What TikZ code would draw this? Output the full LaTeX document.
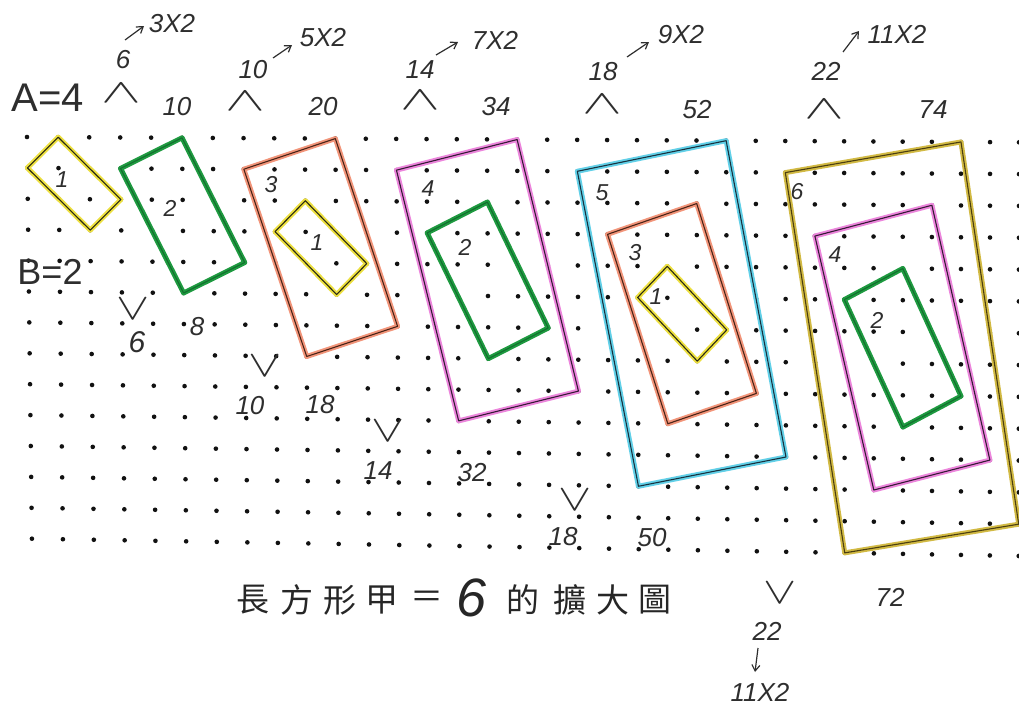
\documentclass[tikz,border=0pt]{standalone}
\usepackage{fontspec}
\usepackage{graphicx}
\setmainfont{Liberation Sans}
\newfontfamily\cjk{Noto Sans CJK TC}
\usetikzlibrary{arrows.meta}
\definecolor{ink}{HTML}{2E2E2E}
\definecolor{dotc}{HTML}{111111}
\definecolor{yelH}{HTML}{EDE040}
\definecolor{yelI}{HTML}{2A2A12}
\definecolor{grnH}{HTML}{1E9A40}
\definecolor{grnI}{HTML}{13702E}
\definecolor{orgH}{HTML}{F2957A}
\definecolor{orgI}{HTML}{4A2418}
\definecolor{magH}{HTML}{EC86DC}
\definecolor{magI}{HTML}{361A36}
\definecolor{cyaH}{HTML}{62D0E8}
\definecolor{cyaI}{HTML}{18323E}
\definecolor{olvH}{HTML}{D2BA44}
\definecolor{olvI}{HTML}{4A3E10}
\newcommand\quadrect[6]{%
  \draw[hl=#1] (#3)--(#4)--(#5)--(#6)--cycle;
  \draw[inkline=#2] (#3)--(#4)--(#5)--(#6)--cycle;}
\newcommand\upmark{\scalebox{2.4}[1.35]{$\wedge$}}
\newcommand\downmark{\scalebox{2.0}[1.5]{$\vee$}}
\begin{document}
\begin{tikzpicture}[x=1pt,y=-1pt,
  hl/.style={draw=#1, line width=5pt, line join=round, line cap=round},
  inkline/.style={draw=#1, line width=1.1pt, line join=round},
  hw/.style={font=\fontsize{26}{26}\selectfont\itshape, text=ink, inner sep=0pt},
  hwbig/.style={font=\fontsize{40}{40}\selectfont, text=ink, inner sep=0pt},
  lab/.style={font=\fontsize{23}{23}\selectfont\itshape, text=ink, inner sep=0pt},
  caret/.style={font=\fontsize{30}{30}\selectfont, text=ink, inner sep=0pt},
  captxt/.style={font=\cjk\fontsize{33}{33}\selectfont, text=black!85, inner sep=0pt},
  arr/.style={-{Straight Barb[length=6pt,width=8pt,line width=1.2pt]}, line width=1.2pt, draw=ink}]
\fill[white] (0,0) rectangle (1019,707);
\useasboundingbox (0,0) rectangle (1019,707);
% dot grid
\foreach \i in {0,...,33}{
  \foreach \j in {0,...,13}{
    \pgfmathsetmacro\xx{27+31.17*\i-0.0336*\i*\i+0.38*\j-0.0123*\i*\j}
    \pgfmathsetmacro\yy{137+0.16*\i+30.9*\j+0.028*\i*\j}
    \coordinate (p-\i-\j) at (\xx,\yy);
    \fill[dotc] (p-\i-\j) circle[radius=2.3pt];
  }}
% rectangles
\quadrect{yelH}{yelI}{p-1-0}{p-3-2}{p-2-3}{p-0-1}
\quadrect{grnH}{grnI}{p-3-1}{p-5-0}{p-7-4}{p-5-5}
\quadrect{orgH}{orgI}{p-7-1}{p-10-0}{p-12-6}{p-9-7}
\quadrect{yelH}{yelI}{p-9-2}{p-11-4}{p-10-5}{p-8-3}
\quadrect{magH}{magI}{p-12-1}{p-16-0}{p-18-8}{p-14-9}
\quadrect{grnH}{grnI}{p-13-3}{p-15-2}{p-17-6}{p-15-7}
\quadrect{cyaH}{cyaI}{p-18-1}{p-23-0}{p-25-10}{p-20-11}
\quadrect{orgH}{orgI}{p-19-3}{p-22-2}{p-24-8}{p-21-9}
\quadrect{yelH}{yelI}{p-21-4}{p-23-6}{p-22-7}{p-20-5}
\quadrect{olvH}{olvI}{p-25-1}{p-31-0}{p-33-12}{p-27-13}
\quadrect{magH}{magI}{p-26-3}{p-30-2}{p-32-10}{p-28-11}
\quadrect{grnH}{grnI}{p-27-5}{p-29-4}{p-31-8}{p-29-9}
% rectangle labels
\node[lab] (r1) at (62,180) {1};
\node[lab] (r2) at (170,208) {2};
\node[lab] (r3) at (271,185) {3};
\node[lab] (r3a) at (317,243) {1};
\node[lab] (r4) at (428,189) {4};
\node[lab] (r4a) at (465,247) {2};
\node[lab] (r5) at (602,193) {5};
\node[lab] (r5a) at (635,253) {3};
\node[lab] (r5b) at (656,297) {1};
\node[lab] (r6) at (797,192) {6};
\node[lab] (r6a) at (835,255) {4};
\node[lab] (r6b) at (877,320) {2};
% left labels
\node[hwbig] (A) at (48,98) {A=4};
\node[hwbig, font=\fontsize{36}{36}\selectfont] (B) at (50,272) {B=2};
% top labels
\node[caret] (c1) at (121,93) {\upmark};
\node[caret] (c2) at (245,101) {\upmark};
\node[caret] (c3) at (420,100) {\upmark};
\node[caret] (c4) at (602,104) {\upmark};
\node[caret] (c5) at (824,109) {\upmark};
\node[hw] (u1) at (123,60) {6};
\node[hw] (u2) at (253,70) {10};
\node[hw] (u3) at (420,70) {14};
\node[hw] (u4) at (603,72) {18};
\node[hw] (u5) at (826,71) {22};
\node[hw] (m1) at (172,24) {3X2};
\node[hw] (m2) at (323,38) {5X2};
\node[hw] (m3) at (495,40) {7X2};
\node[hw] (m4) at (681,35) {9X2};
\node[hw] (m5) at (897,34) {11X2};
\coordinate (a1s) at (125,40); \coordinate (a1e) at (144,26);
\coordinate (a2s) at (273,58); \coordinate (a2e) at (292,45);
\coordinate (a3s) at (436,55); \coordinate (a3e) at (458,42);
\coordinate (a4s) at (627,57); \coordinate (a4e) at (649,42);
\coordinate (a5s) at (843,52); \coordinate (a5e) at (859,31);
\draw[arr] (a1s) -- (a1e);
\draw[arr] (a2s) -- (a2e);
\draw[arr] (a3s) -- (a3e);
\draw[arr] (a4s) -- (a4e);
\draw[arr] (a5s) -- (a5e);
\node[hw] (t1) at (177,107) {10};
\node[hw] (t2) at (323,107) {20};
\node[hw] (t3) at (496,107) {34};
\node[hw] (t4) at (697,110) {52};
\node[hw] (t5) at (933,110) {74};
% bottom labels
\node[caret] (v1) at (133,309) {\downmark};
\node[caret] (v2) at (265,366) {\downmark};
\node[caret] (v3) at (388,431) {\downmark};
\node[caret] (v4) at (575,500) {\downmark};
\node[caret] (v5) at (780,593) {\downmark};
\node[hw, font=\fontsize{30}{30}\selectfont\itshape] (d1) at (137,342) {6};
\node[hw] (d2) at (250,406) {10};
\node[hw] (d3) at (378,471) {14};
\node[hw] (d4) at (563,537) {18};
\node[hw] (d5) at (767,631) {22};
\node[hw] (e1) at (197,327) {8};
\node[hw] (e2) at (320,405) {18};
\node[hw] (e3) at (472,473) {32};
\node[hw] (e4) at (652,538) {50};
\node[hw] (e5) at (890,597) {72};
\node[hw] (m6) at (760,692) {11X2};
\coordinate (a6s) at (758,648); \coordinate (a6e) at (755,672);
\draw[arr] (a6s) -- (a6e);
% caption
\foreach \c/\x/\n in {長/253/k1,方/297/k2,形/340/k3,甲/382/k4,＝/427/k5,的/523/k7,擴/570/k8,大/613/k9,圖/655/k10}{
  \node[captxt] (\n) at (\x,600) {\c};}
\node[font=\fontsize{54}{54}\selectfont\itshape, text=black!85, inner sep=0pt] (k6) at (472,598) {6};
\end{tikzpicture}
\end{document}
